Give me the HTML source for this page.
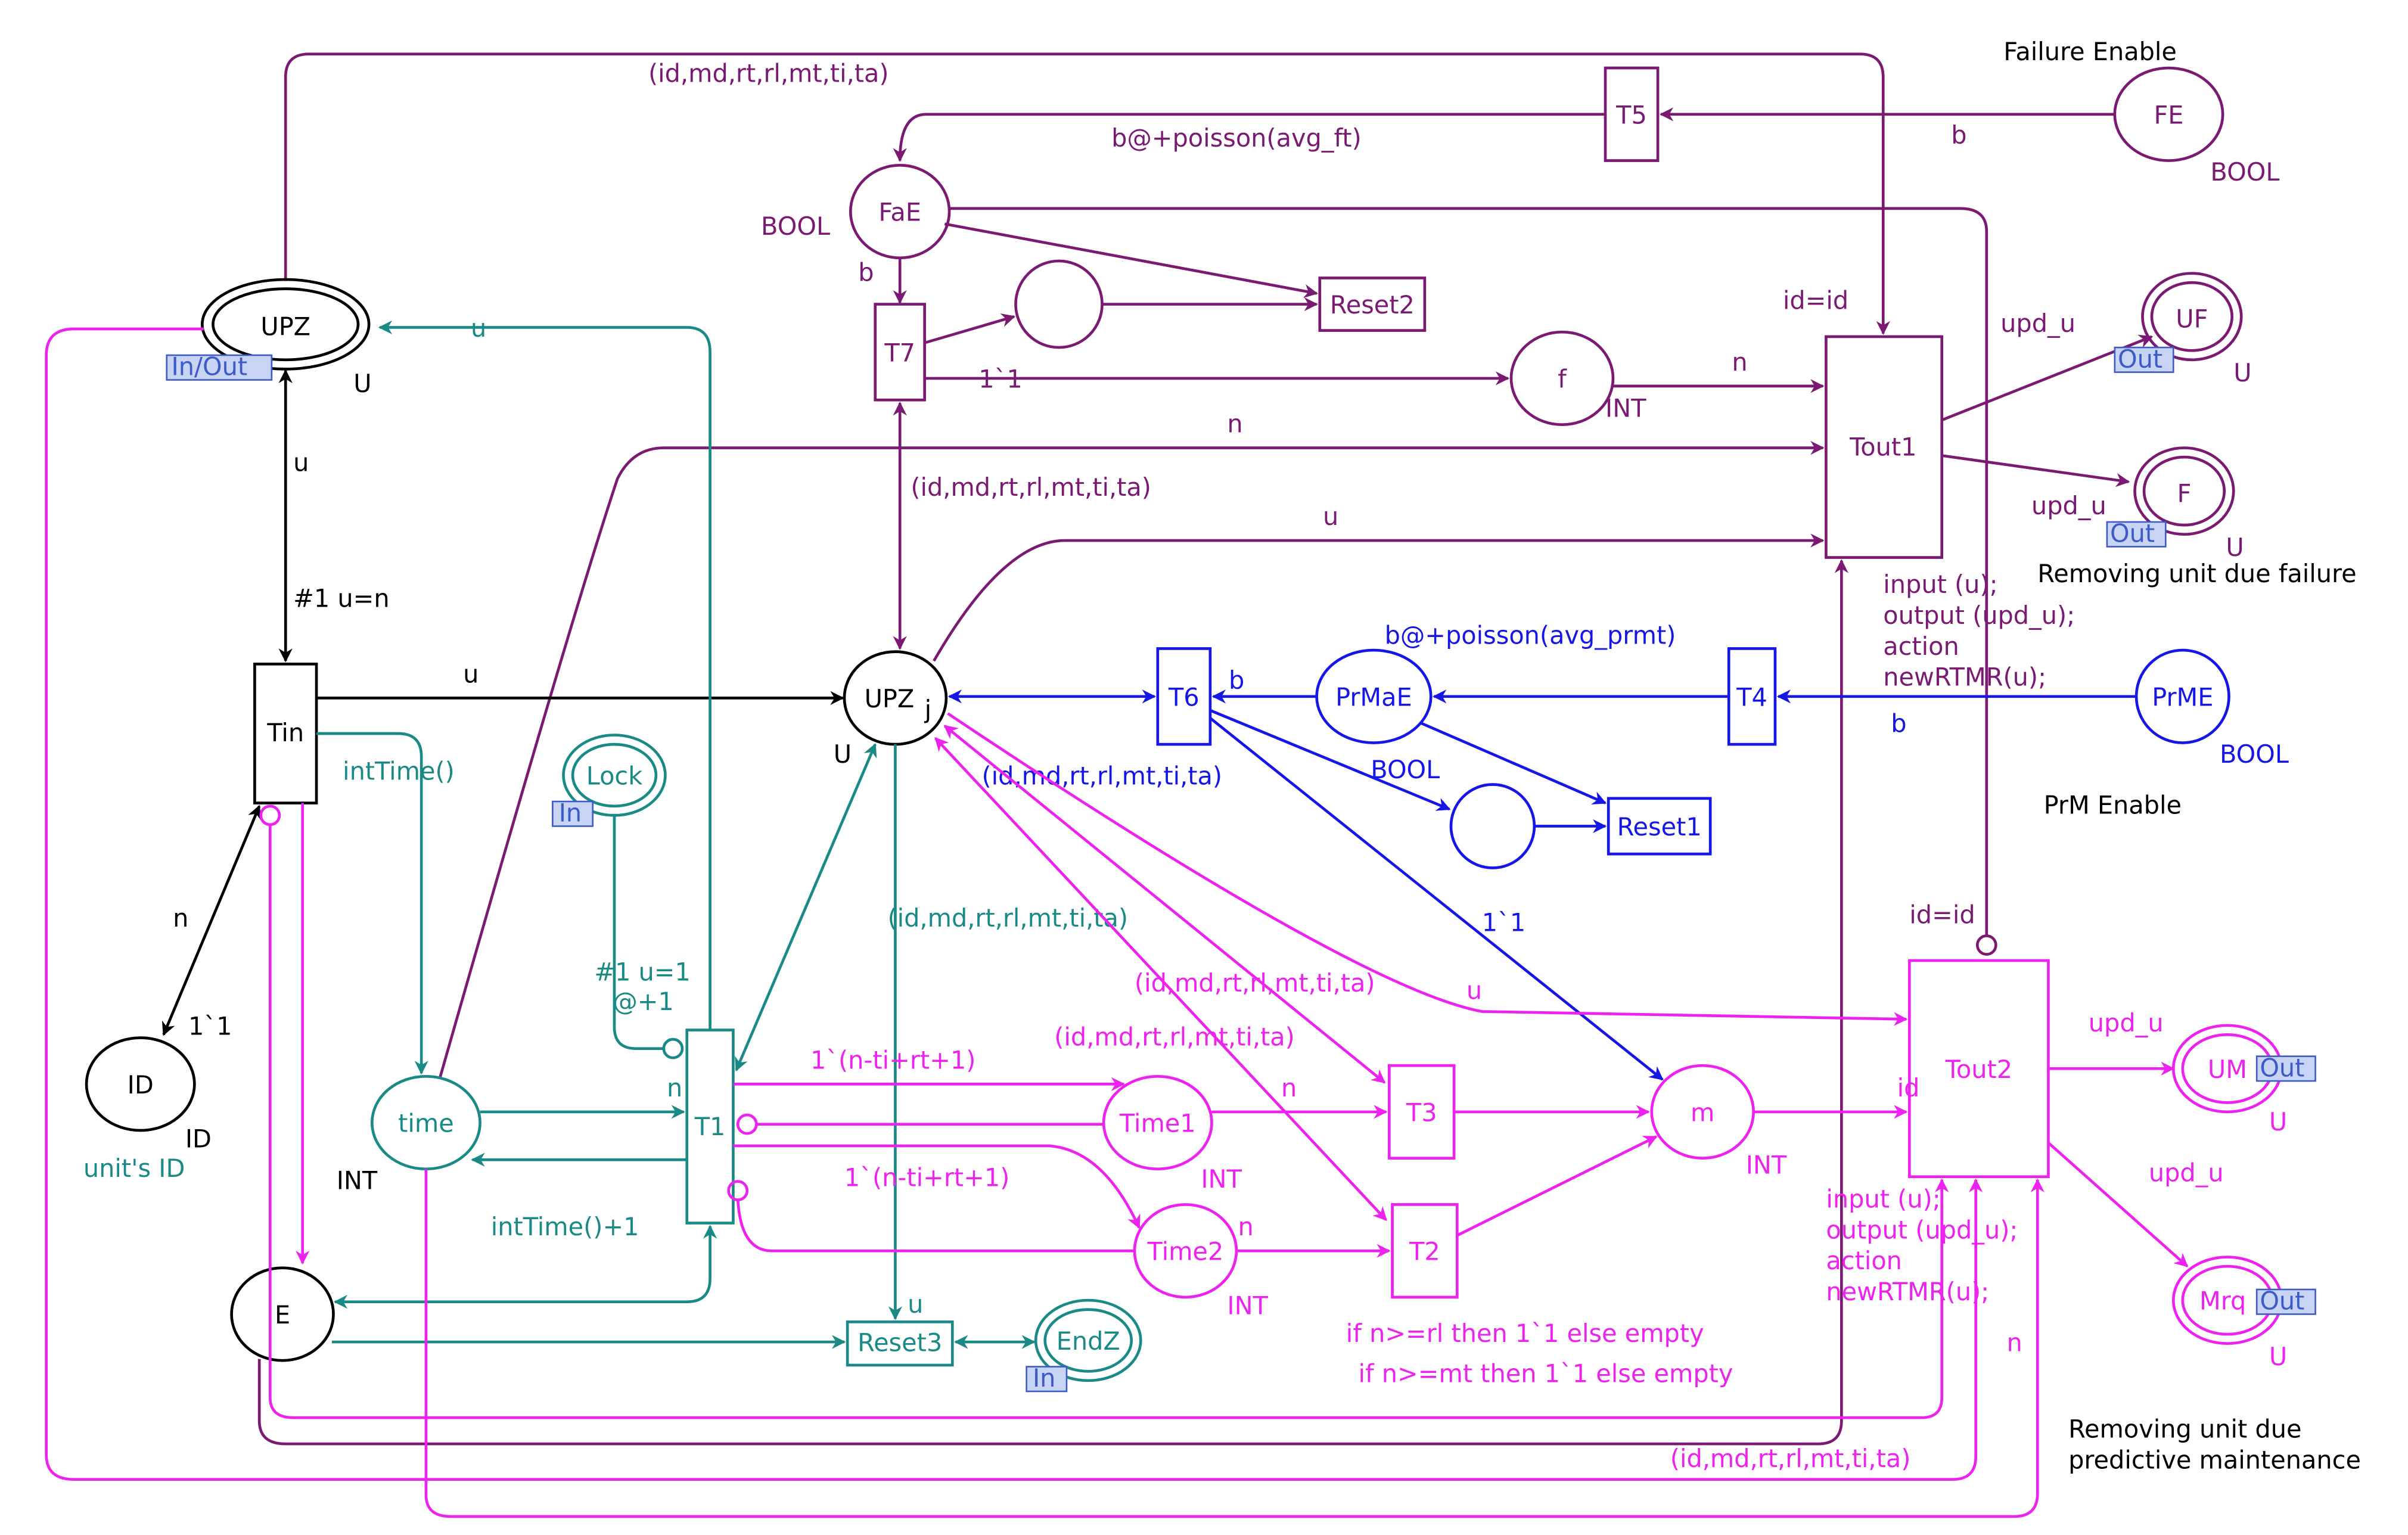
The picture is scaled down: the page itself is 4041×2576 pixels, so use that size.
<!DOCTYPE html>
<html><head><meta charset="utf-8"><style>
html,body{margin:0;padding:0;background:#fff}
svg{display:block}
text{font-family:"DejaVu Sans","Liberation Sans",sans-serif;font-size:16px}
</style></head><body>
<svg width="4041" height="2576" viewBox="0 0 1560 994" preserveAspectRatio="none" xmlns="http://www.w3.org/2000/svg">
<defs>
<marker id="ap" viewBox="0 0 10 10" refX="9" refY="5" markerWidth="9" markerHeight="9" orient="auto-start-reverse" markerUnits="userSpaceOnUse"><path d="M0,0 L10,5 L0,10 L3,5z" fill="#7a1a72"/></marker>
<marker id="ak" viewBox="0 0 10 10" refX="9" refY="5" markerWidth="9" markerHeight="9" orient="auto-start-reverse" markerUnits="userSpaceOnUse"><path d="M0,0 L10,5 L0,10 L3,5z" fill="#000"/></marker>
<marker id="ab" viewBox="0 0 10 10" refX="9" refY="5" markerWidth="9" markerHeight="9" orient="auto-start-reverse" markerUnits="userSpaceOnUse"><path d="M0,0 L10,5 L0,10 L3,5z" fill="#1616e6"/></marker>
<marker id="at" viewBox="0 0 10 10" refX="9" refY="5" markerWidth="9" markerHeight="9" orient="auto-start-reverse" markerUnits="userSpaceOnUse"><path d="M0,0 L10,5 L0,10 L3,5z" fill="#1a8a86"/></marker>
<marker id="am" viewBox="0 0 10 10" refX="9" refY="5" markerWidth="9" markerHeight="9" orient="auto-start-reverse" markerUnits="userSpaceOnUse"><path d="M0,0 L10,5 L0,10 L3,5z" fill="#ee22ee"/></marker>
</defs>

<!-- PURPLE -->
<g stroke="#7a1a72" stroke-width="1.8" fill="none">
<line x1="1370" y1="74" x2="1076" y2="74" marker-end="url(#ap)"/>
<path d="M1040,74 L600,74 Q583,74 583,104" marker-end="url(#ap)"/>
<line x1="583" y1="167" x2="583" y2="196" marker-end="url(#ap)"/>
<line x1="612" y1="145" x2="853" y2="190" marker-end="url(#ap)"/>
<line x1="599" y1="222" x2="657" y2="205" marker-end="url(#ap)"/>
<line x1="714" y1="197" x2="853" y2="197" marker-end="url(#ap)"/>
<line x1="599" y1="245" x2="977" y2="245" marker-end="url(#ap)"/>
<line x1="1045" y1="250" x2="1181" y2="250" marker-end="url(#ap)"/>
<path d="M615,135 L1270,135 Q1287,135 1287,150 L1287,606"/>
<path d="M185,182 L185,50 Q185,35 200,35 L1205,35 Q1220,35 1220,50 L1220,216" marker-end="url(#ap)"/>
<line x1="1258" y1="272" x2="1394" y2="218" marker-end="url(#ap)"/>
<line x1="1258" y1="295" x2="1379" y2="312" marker-end="url(#ap)"/>
<path d="M285,698 Q370,400 400,310 Q410,290 430,290 L1181,290" marker-end="url(#ap)"/>
<path d="M605,428 Q650,350 690,350 L1181,350" marker-end="url(#ap)"/>
<path d="M168,880 L168,920 Q168,935 185,935 L1178,935 Q1193,935 1193,920 L1193,363" marker-end="url(#ap)"/>
<line x1="583" y1="261" x2="583" y2="420" marker-start="url(#ap)" marker-end="url(#ap)"/>
<ellipse cx="1405" cy="74" rx="35" ry="30"/>
<rect x="1040" y="44" width="34" height="60"/>
<ellipse cx="583" cy="137" rx="32" ry="30"/>
<rect x="567" y="197" width="32" height="62"/>
<rect x="855" y="180" width="68" height="34"/>
<circle cx="686" cy="197" r="28"/>
<ellipse cx="1012" cy="245" rx="33" ry="30"/>
<circle cx="1287" cy="612" r="6"/>
<rect x="1183" y="218" width="75" height="143"/>
<ellipse cx="1420" cy="205" rx="32" ry="28"/><ellipse cx="1420" cy="205" rx="26" ry="22"/>
<ellipse cx="1415" cy="318" rx="32" ry="28"/><ellipse cx="1415" cy="318" rx="26" ry="22"/>
</g>
<g fill="#7a1a72">
<text x="1405" y="80" text-anchor="middle">FE</text>
<text x="1432" y="117">BOOL</text>
<text x="1057" y="80" text-anchor="middle">T5</text>
<text x="1264" y="93">b</text>
<text x="720" y="95">b@+poisson(avg_ft)</text>
<text x="583" y="143" text-anchor="middle">FaE</text>
<text x="493" y="152">BOOL</text>
<text x="556" y="182">b</text>
<text x="583" y="234" text-anchor="middle">T7</text>
<text x="889" y="203" text-anchor="middle">Reset2</text>
<text x="634" y="251">1`1</text>
<text x="1012" y="251" text-anchor="middle">f</text>
<text x="1040" y="270">INT</text>
<text x="1122" y="240">n</text>
<text x="1237" y="598">id=id</text>
<text x="420" y="53">(id,md,rt,rl,mt,ti,ta)</text>
<text x="1155" y="200">id=id</text>
<text x="1220" y="295" text-anchor="middle">Tout1</text>
<text x="1296" y="215">upd_u</text>
<text x="1420" y="212" text-anchor="middle">UF</text>
<text x="1447" y="247">U</text>
<text x="1316" y="333">upd_u</text>
<text x="1415" y="325" text-anchor="middle">F</text>
<text x="1442" y="360">U</text>
<text x="795" y="280">n</text>
<text x="857" y="340">u</text>
<text x="590" y="321">(id,md,rt,rl,mt,ti,ta)</text>
<text x="1220" y="384">input (u);</text>
<text x="1220" y="404">output (upd_u);</text>
<text x="1220" y="424">action</text>
<text x="1220" y="444">newRTMR(u);</text>
</g>
<g fill="#000">
<text x="1298" y="39">Failure Enable</text>
<text x="1320" y="377">Removing unit due failure</text>
<text x="1324" y="527">PrM Enable</text>
<text x="1340" y="931">Removing unit due</text>
<text x="1340" y="951">predictive maintenance</text>
</g>
<g>
<rect x="1370" y="225" width="38" height="16" fill="#c8d4f4" stroke="#3c5ac8"/><text x="1372" y="238" fill="#3c5ac8" font-size="14">Out</text>
<rect x="1365" y="338" width="38" height="16" fill="#c8d4f4" stroke="#3c5ac8"/><text x="1367" y="351" fill="#3c5ac8" font-size="14">Out</text>
</g>

<!-- BLACK -->
<g stroke="#000" stroke-width="1.8" fill="none">
<line x1="185" y1="240" x2="185" y2="428" marker-start="url(#ak)" marker-end="url(#ak)"/>
<line x1="205" y1="452" x2="546" y2="452" marker-end="url(#ak)"/>
<line x1="168" y1="522" x2="106" y2="670" marker-start="url(#ak)" marker-end="url(#ak)"/>
<ellipse cx="185" cy="210" rx="54" ry="29"/><ellipse cx="185" cy="210" rx="47" ry="23"/>
<rect x="165" y="430" width="40" height="90"/>
<ellipse cx="580" cy="452" rx="33" ry="30"/>
<ellipse cx="91" cy="702" rx="35" ry="30"/>
<ellipse cx="183" cy="851" rx="33" ry="30"/>
</g>
<g fill="#000">
<text x="185" y="217" text-anchor="middle">UPZ</text>
<text x="229" y="254">U</text>
<text x="190" y="305">u</text>
<text x="190" y="393">#1 u=n</text>
<text x="185" y="480" text-anchor="middle">Tin</text>
<text x="300" y="442">u</text>
<text x="560" y="458">UPZ</text><text x="599" y="465" font-size="13">j</text>
<text x="540" y="494">U</text>
<text x="112" y="600">n</text>
<text x="122" y="670">1`1</text>
<text x="91" y="708" text-anchor="middle">ID</text>
<text x="120" y="743">ID</text>
<text x="218" y="770">INT</text>
<text x="183" y="857" text-anchor="middle">E</text>
</g>
<rect x="108" y="230" width="68" height="16" fill="#c8d4f4" stroke="#3c5ac8"/><text x="111" y="243" fill="#3c5ac8" font-size="14">In/Out</text>

<!-- BLUE -->
<g stroke="#1616e6" stroke-width="1.8" fill="none">
<line x1="1384" y1="451" x2="1152" y2="451" marker-end="url(#ab)"/>
<line x1="1120" y1="451" x2="929" y2="451" marker-end="url(#ab)"/>
<line x1="853" y1="451" x2="786" y2="451" marker-end="url(#ab)"/>
<line x1="615" y1="451" x2="748" y2="451" marker-start="url(#ab)" marker-end="url(#ab)"/>
<line x1="920" y1="468" x2="1040" y2="520" marker-end="url(#ab)"/>
<line x1="784" y1="460" x2="939" y2="524" marker-end="url(#ab)"/>
<line x1="994" y1="535" x2="1040" y2="535" marker-end="url(#ab)"/>
<line x1="784" y1="465" x2="1077" y2="699" marker-end="url(#ab)"/>
<ellipse cx="1414" cy="451" rx="30" ry="30"/>
<rect x="1120" y="420" width="30" height="62"/>
<ellipse cx="890" cy="451" rx="37" ry="30"/>
<rect x="750" y="420" width="34" height="62"/>
<rect x="1042" y="517" width="66" height="36"/>
<circle cx="967" cy="535" r="27"/>
</g>
<g fill="#1616e6">
<text x="1414" y="457" text-anchor="middle">PrME</text>
<text x="1438" y="494">BOOL</text>
<text x="1135" y="457" text-anchor="middle">T4</text>
<text x="1225" y="474">b</text>
<text x="897" y="417">b@+poisson(avg_prmt)</text>
<text x="890" y="457" text-anchor="middle">PrMaE</text>
<text x="796" y="446">b</text>
<text x="767" y="457" text-anchor="middle">T6</text>
<text x="888" y="504">BOOL</text>
<text x="1075" y="541" text-anchor="middle">Reset1</text>
<text x="960" y="603">1`1</text>
<text x="636" y="508">(id,md,rt,rl,mt,ti,ta)</text>
</g>

<!-- TEAL -->
<g stroke="#1a8a86" stroke-width="1.8" fill="none">
<line x1="477" y1="693" x2="567" y2="482" marker-start="url(#at)" marker-end="url(#at)"/>
<path d="M460,667 L460,228 Q460,212 445,212 L246,212" marker-end="url(#at)"/>
<path d="M398,527 L398,665 Q398,679 412,679 L430,679"/>
<circle cx="436" cy="679" r="6"/>
<path d="M205,475 L258,475 Q273,475 273,490 L273,695" marker-end="url(#at)"/>
<line x1="311" y1="720" x2="443" y2="720" marker-end="url(#at)"/>
<line x1="445" y1="751" x2="306" y2="751" marker-end="url(#at)"/>
<path d="M217,843 L445,843 Q460,843 460,828 L460,794" marker-start="url(#at)" marker-end="url(#at)"/>
<line x1="580" y1="482" x2="580" y2="854" marker-end="url(#at)"/>
<line x1="215" y1="869" x2="547" y2="869" marker-end="url(#at)"/>
<line x1="619" y1="869" x2="670" y2="869" marker-start="url(#at)" marker-end="url(#at)"/>
<rect x="445" y="667" width="30" height="125"/>
<ellipse cx="398" cy="502" rx="33" ry="26"/><ellipse cx="398" cy="502" rx="27" ry="20"/>
<ellipse cx="276" cy="727" rx="35" ry="30"/>
<rect x="549" y="856" width="68" height="28"/>
<ellipse cx="705" cy="868" rx="34" ry="26"/><ellipse cx="705" cy="868" rx="28" ry="20"/>
</g>
<g fill="#1a8a86">
<text x="460" y="735" text-anchor="middle">T1</text>
<text x="575" y="600">(id,md,rt,rl,mt,ti,ta)</text>
<text x="305" y="218">u</text>
<text x="398" y="508" text-anchor="middle">Lock</text>
<text x="385" y="635">#1 u=1</text>
<text x="397" y="654">@+1</text>
<text x="222" y="505">intTime()</text>
<text x="276" y="733" text-anchor="middle">time</text>
<text x="432" y="710">n</text>
<text x="318" y="800">intTime()+1</text>
<text x="588" y="850">u</text>
<text x="583" y="875" text-anchor="middle">Reset3</text>
<text x="705" y="874" text-anchor="middle">EndZ</text>
<text x="54" y="762">unit's ID</text>
</g>
<rect x="358" y="519" width="26" height="16" fill="#c8d4f4" stroke="#3c5ac8"/><text x="362" y="532" fill="#3c5ac8" font-size="14">In</text>
<rect x="665" y="885" width="26" height="16" fill="#c8d4f4" stroke="#3c5ac8"/><text x="669" y="898" fill="#3c5ac8" font-size="14">In</text>

<!-- MAGENTA -->
<g stroke="#ee22ee" stroke-width="1.8" fill="none">
<line x1="475" y1="702" x2="728" y2="702" marker-end="url(#am)"/>
<line x1="715" y1="728" x2="490" y2="728"/>
<circle cx="484" cy="728" r="6"/>
<line x1="785" y1="720" x2="898" y2="720" marker-end="url(#am)"/>
<path d="M475,742 L680,742 Q715,745 738,795" marker-end="url(#am)"/>
<path d="M478,777 Q480,810 500,810 L735,810"/>
<circle cx="478" cy="771" r="6"/>
<line x1="801" y1="810" x2="900" y2="810" marker-end="url(#am)"/>
<line x1="942" y1="720" x2="1068" y2="720" marker-end="url(#am)"/>
<line x1="944" y1="800" x2="1073" y2="736" marker-end="url(#am)"/>
<line x1="1136" y1="720" x2="1235" y2="720" marker-end="url(#am)"/>
<line x1="612" y1="470" x2="897" y2="701" marker-start="url(#am)" marker-end="url(#am)"/>
<line x1="606" y1="478" x2="898" y2="790" marker-start="url(#am)" marker-end="url(#am)"/>
<path d="M614,462 Q880,640 960,655 L1235,660" marker-end="url(#am)"/>
<line x1="1327" y1="692" x2="1408" y2="692" marker-end="url(#am)"/>
<line x1="1327" y1="740" x2="1417" y2="820" marker-end="url(#am)"/>
<path d="M175,534 L175,905 Q175,918 190,918 L1245,918 Q1258,918 1258,905 L1258,764" marker-end="url(#am)"/>
<line x1="196" y1="520" x2="196" y2="818" marker-end="url(#am)"/>
<circle cx="175" cy="528" r="6"/>
<path d="M132,213 L48,213 Q30,213 30,230 L30,942 Q30,958 48,958 L1265,958 Q1280,958 1280,943 L1280,764" marker-end="url(#am)"/>
<path d="M276,757 L276,968 Q276,982 292,982 L1305,982 Q1320,982 1320,967 L1320,764" marker-end="url(#am)"/>
<rect x="900" y="690" width="42" height="60"/>
<rect x="902" y="780" width="42" height="60"/>
<ellipse cx="750" cy="727" rx="35" ry="30"/>
<ellipse cx="768" cy="810" rx="33" ry="30"/>
<ellipse cx="1103" cy="720" rx="33" ry="30"/>
<rect x="1237" y="622" width="90" height="140"/>
<ellipse cx="1443" cy="692" rx="35" ry="28"/><ellipse cx="1443" cy="692" rx="29" ry="22"/>
<ellipse cx="1443" cy="842" rx="35" ry="28"/><ellipse cx="1443" cy="842" rx="29" ry="22"/>
</g>
<g fill="#ee22ee">
<text x="525" y="692">1`(n-ti+rt+1)</text>
<text x="547" y="768">1`(n-ti+rt+1)</text>
<text x="750" y="733" text-anchor="middle">Time1</text>
<text x="778" y="769">INT</text>
<text x="830" y="710">n</text>
<text x="768" y="816" text-anchor="middle">Time2</text>
<text x="802" y="800">n</text>
<text x="795" y="851">INT</text>
<text x="921" y="726" text-anchor="middle">T3</text>
<text x="923" y="816" text-anchor="middle">T2</text>
<text x="1103" y="726" text-anchor="middle">m</text>
<text x="1131" y="760">INT</text>
<text x="1229" y="710">id</text>
<text x="1282" y="698" text-anchor="middle">Tout2</text>
<text x="735" y="642">(id,md,rt,rl,mt,ti,ta)</text>
<text x="683" y="677">(id,md,rt,rl,mt,ti,ta)</text>
<text x="950" y="647">u</text>
<text x="1353" y="668">upd_u</text>
<text x="1443" y="698" text-anchor="middle">UM</text>
<text x="1470" y="732">U</text>
<text x="1392" y="765">upd_u</text>
<text x="1440" y="848" text-anchor="middle">Mrq</text>
<text x="1470" y="884">U</text>
<text x="1183" y="782">input (u);</text>
<text x="1183" y="802">output (upd_u);</text>
<text x="1183" y="822">action</text>
<text x="1183" y="842">newRTMR(u);</text>
<text x="872" y="869">if n&gt;=rl then 1`1 else empty</text>
<text x="880" y="895">if n&gt;=mt then 1`1 else empty</text>
<text x="1082" y="950">(id,md,rt,rl,mt,ti,ta)</text>
<text x="1300" y="875">n</text>
</g>
<rect x="1462" y="684" width="38" height="16" fill="#c8d4f4" stroke="#3c5ac8"/><text x="1464" y="697" fill="#3c5ac8" font-size="14">Out</text>
<rect x="1462" y="835" width="38" height="16" fill="#c8d4f4" stroke="#3c5ac8"/><text x="1464" y="848" fill="#3c5ac8" font-size="14">Out</text>
</svg>
</body></html>
